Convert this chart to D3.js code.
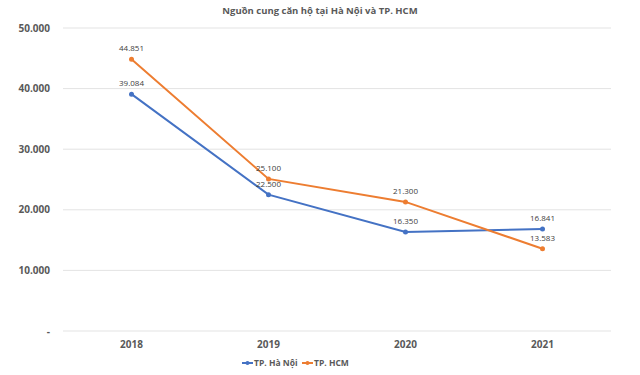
<!DOCTYPE html>
<html>
<head>
<meta charset="utf-8">
<script src="https://cdn.jsdelivr.net/npm/d3@7"></script>
<style>
  body { margin: 0; background: #fff; }
  text { font-family: "Open Sans", "Liberation Sans", sans-serif; fill: #595959; }
</style>
</head>
<body>
<div id="chart"></div>
<script>
var width  = 640;
var height = 375;

var years = ["2018", "2019", "2020", "2021"];
var hanoi = [39084, 22500, 16350, 16841];
var hcm   = [44851, 25100, 21300, 13583];
var yTicks = [0, 10000, 20000, 30000, 40000, 50000];
var seriesNames = ["TP. Hà Nội", "TP. HCM"];
var colors = ["#4472C4", "#ED7D31"];

var margin = { top: 28, right: 29, bottom: 44, left: 63 };

var svg = d3.select("#chart").append("svg")
  .attr("width", width)
  .attr("height", height);

var x = d3.scaleBand().domain(years).range([margin.left, width - margin.right]);
var y = d3.scaleLinear().domain([0, 50000]).range([height - margin.bottom, margin.top]);

var fmt = function(v) {
  return v === 0 ? "-" : d3.format(",")(v).replace(/,/g, ".");
};

// title
svg.append("text")
  .attr("x", 320).attr("y", 14)
  .attr("text-anchor", "middle")
  .style("font-size", "9.5px")
  .style("font-weight", "bold")
  .text("Nguồn cung căn hộ tại Hà Nội và TP. HCM");

// grid
svg.selectAll(".grid")
  .data(yTicks)
  .enter().append("line")
  .attr("x1", margin.left).attr("x2", width - margin.right)
  .attr("y1", function(d) { return y(d); })
  .attr("y2", function(d) { return y(d); })
  .style("stroke", "#e3e3e3")
  .style("stroke-width", 1);

svg.selectAll(".ytick")
  .data(yTicks)
  .enter().append("text")
  .attr("x", 50)
  .attr("y", function(d) { return y(d) + 3.5; })
  .attr("text-anchor", "end")
  .style("font-size", "10px")
  .style("font-weight", "bold")
  .text(fmt);

svg.selectAll(".xtick")
  .data(years)
  .enter().append("text")
  .attr("x", function(d) { return x(d) + x.bandwidth() / 2; })
  .attr("y", 348)
  .attr("text-anchor", "middle")
  .style("font-size", "10px")
  .style("font-weight", "bold")
  .text(function(d) { return d; });

var series = [hanoi, hcm];
var line = d3.line()
  .x(function(d, i) { return x(years[i]) + x.bandwidth() / 2; })
  .y(function(d) { return y(d); });

series.forEach(function(s, k) {
  svg.append("path")
    .attr("d", line(s))
    .style("fill", "none")
    .style("stroke", colors[k])
    .style("stroke-width", 2);

  svg.selectAll(".pt" + k)
    .data(s)
    .enter().append("circle")
    .attr("cx", function(d, i) { return x(years[i]) + x.bandwidth() / 2; })
    .attr("cy", function(d) { return y(d); })
    .attr("r", 2.5)
    .style("fill", colors[k]);

  svg.selectAll(".lbl" + k)
    .data(s)
    .enter().append("text")
    .attr("x", function(d, i) { return x(years[i]) + x.bandwidth() / 2; })
    .attr("y", function(d) { return y(d) - 8; })
    .attr("text-anchor", "middle")
    .style("font-size", "8px")
    .style("fill", "#404040")
    .text(fmt);
});

// legend
var legend = svg.append("g").attr("transform", "translate(242,366)");
seriesNames.forEach(function(n, k) {
  var g = legend.append("g").attr("transform", "translate(" + (k * 60) + ",0)");
  g.append("line").attr("x1", 0).attr("x2", 11).attr("y1", -3).attr("y2", -3)
    .style("stroke", colors[k]).style("stroke-width", 2);
  g.append("circle").attr("cx", 5.5).attr("cy", -3).attr("r", 2).style("fill", colors[k]);
  g.append("text").attr("x", 12).attr("y", 0)
    .style("font-size", "8.5px").style("font-weight", "bold").text(n);
});
</script>
</body>
</html>
